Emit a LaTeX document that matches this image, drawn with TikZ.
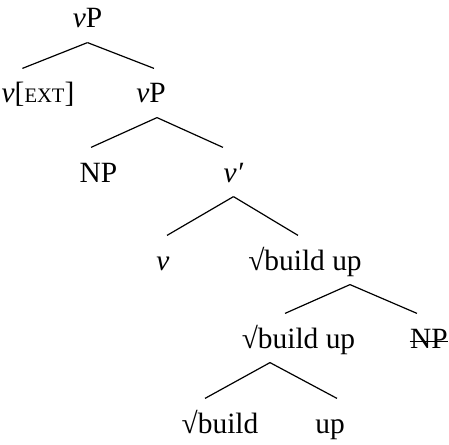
\documentclass[tikz,border=0pt]{standalone}
\usepackage{fontspec}
\setmainfont{Liberation Serif}

% small capitals, faked with smaller upper case
\newcommand{\scext}{{\fontsize{10.3pt}{11pt}\selectfont EXT}}
\newcommand{\rt}{\char"221A}

\begin{document}
\begin{tikzpicture}[x=0.5pt, y=-0.5pt, line width=0.6pt]
	\tikzstyle{cat} = [anchor=base, inner xsep=0pt, inner ysep=4pt, text height=13pt, text depth=3pt, font=\fontsize{14.7pt}{17pt}\selectfont]

	\useasboundingbox (0,0) rectangle (449,444);

	\path
	node[cat] (root) at (87.5,28) {\textit{v}P}
	node[cat] (vext) at (38,103) {\textit{v}[\scext]}
	node[cat] (vp) at (151,103) {\textit{v}P}
	node[cat] (np) at (98.5,182) {NP}
	node[cat] (vbar) at (233.5,182) {\textit{v′}}
	node[cat] (v) at (163,270) {\textit{v}}
	node[cat] (rootP) at (305,270) {\rt build up}
	node[cat] (rootup) at (298.5,348) {\rt build up}
	node[cat] (npcopy) at (429,348) {NP}
	node[cat] (build) at (220,433) {\rt build}
	node[cat] (up) at (330,433) {up}

	(root.south) edge ([xshift=-7.8pt]vext.north)
	(root.south) edge ([xshift=1.5pt]vp.north)
	([xshift=3pt]vp.south) edge ([xshift=-3.75pt]np.north)
	([xshift=3pt]vp.south) edge ([xshift=-5.25pt]vbar.north)
	(vbar.south) edge ([xshift=2pt]v.north)
	(vbar.south) edge ([xshift=-3.5pt]rootP.north)
	([xshift=22.5pt]rootP.south) edge ([xshift=-6.75pt]rootup.north)
	([xshift=22.5pt]rootP.south) edge ([xshift=-6pt]npcopy.north)
	([xshift=-14.25pt]rootup.south) edge ([xshift=-7.5pt]build.north)
	([xshift=-14.25pt]rootup.south) edge ([xshift=3.5pt]up.north)
	;

	% deleted copy of the object
	\draw[line width=0.4pt] ([yshift=3.4pt]npcopy.base west) -- ([yshift=3.4pt]npcopy.base east);
\end{tikzpicture}
\end{document}
